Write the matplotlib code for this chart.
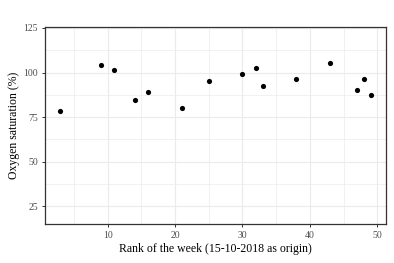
import matplotlib
matplotlib.use('Agg')
import matplotlib.pyplot as plt
from matplotlib.ticker import MultipleLocator

# rank of the week vs oxygen saturation
week = [3, 9, 11, 14, 16, 21, 25, 30, 32, 33, 38, 43, 47, 48, 49]
oxygen = [78.5, 104, 101.3, 84.5, 89, 80, 95, 99, 102.3, 92.2, 96.2, 105.2, 90, 96.2, 87.3]

plt.rcParams['font.family'] = ['Liberation Serif', 'DejaVu Serif']

fig = plt.figure(figsize=(3.94, 2.63), dpi=100)
ax = fig.add_axes([0.114, 0.148, 0.866, 0.749])

ax.scatter(week, oxygen, s=14, color='black', zorder=3, linewidths=0)

ax.set_xlim(0.7, 51.3)
ax.set_ylim(15, 125.5)
ax.xaxis.set_major_locator(MultipleLocator(10))
ax.xaxis.set_minor_locator(MultipleLocator(5))
ax.yaxis.set_major_locator(MultipleLocator(25))
ax.yaxis.set_minor_locator(MultipleLocator(12.5))
ax.set_yticks([25, 50, 75, 100, 125])

ax.grid(which='major', color='#EBEBEB', linewidth=0.8)
ax.grid(which='minor', color='#EBEBEB', linewidth=0.5)
ax.set_axisbelow(True)

for s in ax.spines.values():
    s.set_color('#333333')
    s.set_linewidth(0.9)

ax.tick_params(which='major', length=2.5, width=0.7, color='#333333',
               labelsize=7, labelcolor='#4D4D4D', pad=2.5)
ax.tick_params(which='minor', length=0)

ax.set_xlabel('Rank of the week (15-10-2018 as origin)', fontsize=8.5, labelpad=2)
ax.set_ylabel('Oxygen saturation (%)', fontsize=8.5, labelpad=2.5)

fig.savefig('out.png', dpi=100)
